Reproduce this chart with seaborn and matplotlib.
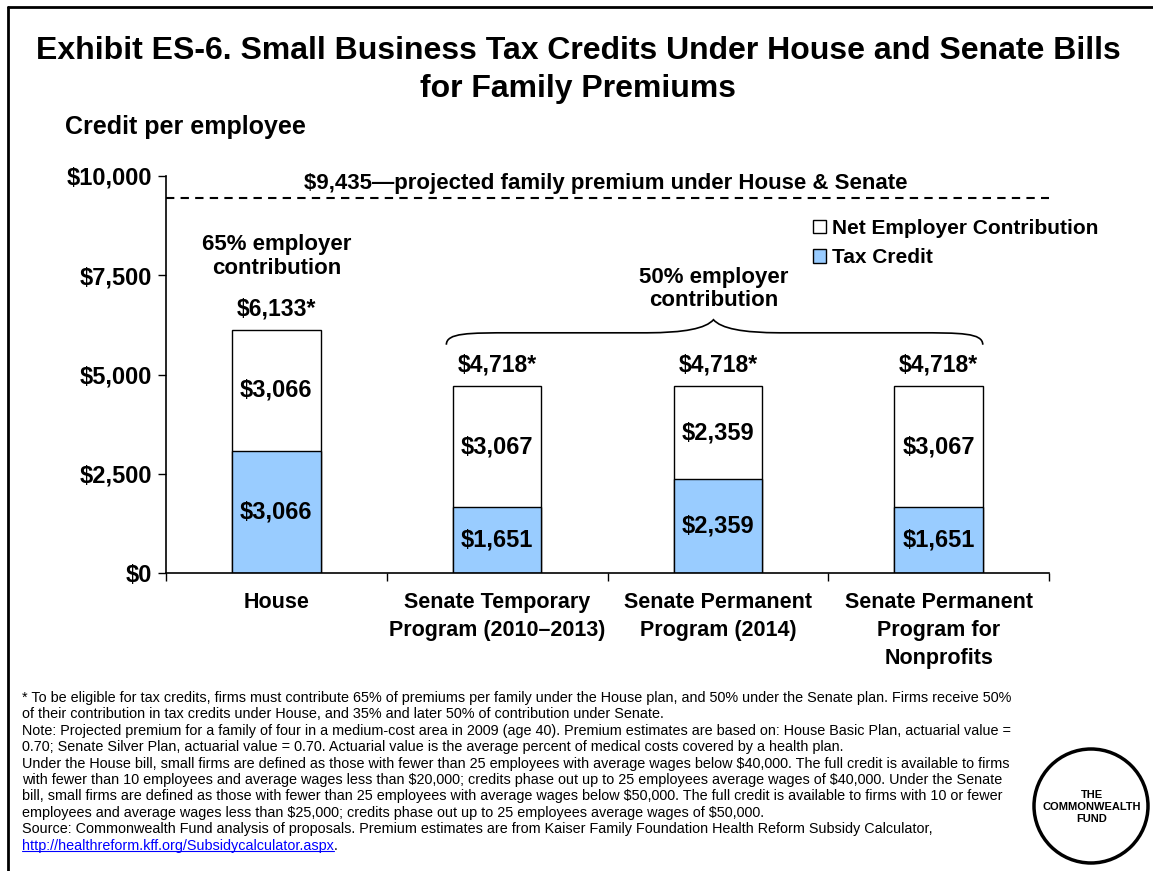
import matplotlib
matplotlib.use('Agg')
import matplotlib.pyplot as plt
import seaborn as sns
from matplotlib.path import Path
from matplotlib.patches import PathPatch, Circle
from matplotlib.lines import Line2D

# Chart data
categories = ['House', 'Senate Temporary\nProgram (2010–2013)', 'Senate Permanent\nProgram (2014)',
              'Senate Permanent\nProgram for\nNonprofits']
tax_credit = [3066, 1651, 2359, 1651]
net_employer = [3066, 3067, 2359, 3067]
totals = [6133, 4718, 4718, 4718]
premium = 9435
y_ticks = [0, 2500, 5000, 7500, 10000]
y_tick_labels = ['$0', '$2,500', '$5,000', '$7,500', '$10,000']

footnotes = [
    "* To be eligible for tax credits, firms must contribute 65% of premiums per family under the House plan, and 50% under the Senate plan. Firms receive 50%",
    "of their contribution in tax credits under House, and 35% and later 50% of contribution under Senate.",
    "Note: Projected premium for a family of four in a medium-cost area in 2009 (age 40). Premium estimates are based on: House Basic Plan, actuarial value =",
    "0.70; Senate Silver Plan, actuarial value = 0.70. Actuarial value is the average percent of medical costs covered by a health plan.",
    "Under the House bill, small firms are defined as those with fewer than 25 employees with average wages below $40,000. The full credit is available to firms",
    "with fewer than 10 employees and average wages less than $20,000; credits phase out up to 25 employees average wages of $40,000. Under the Senate",
    "bill, small firms are defined as those with fewer than 25 employees with average wages below $50,000. The full credit is available to firms with 10 or fewer",
    "employees and average wages less than $25,000; credits phase out up to 25 employees average wages of $50,000.",
    "Source: Commonwealth Fund analysis of proposals. Premium estimates are from Kaiser Family Foundation Health Reform Subsidy Calculator,",
]
link = "http://healthreform.kff.org/Subsidycalculator.aspx"

sns.set_style('ticks')
plt.rcParams['font.family'] = ['Liberation Sans', 'DejaVu Sans']
plt.rcParams['text.parse_math'] = False
plt.rcParams['text.color'] = 'black'
plt.rcParams['xtick.color'] = 'black'
plt.rcParams['ytick.color'] = 'black'
plt.rcParams['axes.edgecolor'] = 'black'

W, H = 1153, 871
fig = plt.figure(figsize=(W / 100, H / 100), dpi=100)


def fx(px):
    return px / W


def fy(py):
    return 1 - py / H


ax = fig.add_axes([fx(166), fy(573), fx(1049) - fx(166), fy(176) - fy(573)])

blue = '#99CCFF'
sns.barplot(x=categories, y=totals, color='white', edgecolor='black', linewidth=1,
            width=0.4, saturation=1, ax=ax)
sns.barplot(x=categories, y=tax_credit, color=blue, edgecolor='black', linewidth=1,
            width=0.4, saturation=1, ax=ax)

ax.set_xlim(-0.5, 3.5)
ax.set_ylim(0, 10000)
ax.set_yticks(y_ticks)
ax.set_yticklabels(y_tick_labels, fontsize=17, fontweight='bold')
ax.tick_params(axis='y', length=6, width=1, pad=4, colors='black')
ax.set_xticks(range(len(categories)))
ax.set_xticklabels(categories, fontsize=15.5, fontweight='bold', linespacing=1.42)
ax.tick_params(axis='x', which='major', length=0, pad=14, colors='black')
ax.set_xticks([-0.5, 0.5, 1.5, 2.5, 3.5], minor=True)
ax.tick_params(axis='x', which='minor', length=6, width=1, color='black')
ax.set_xlabel('')
ax.set_ylabel('')
for side in ['top', 'right']:
    ax.spines[side].set_visible(False)
for side in ['left', 'bottom']:
    ax.spines[side].set_color('black')
    ax.spines[side].set_linewidth(1.2)

# Premium line
ax.axhline(premium, color='black', linestyle=(0, (4, 3)), linewidth=1.5)
ax.text(1.49, 9800, f'${premium:,}—projected family premium under House & Senate',
        ha='center', va='center', fontsize=16, fontweight='bold')

# Segment labels
for i in range(len(categories)):
    ax.text(i, tax_credit[i] / 2, f'${tax_credit[i]:,}', ha='center', va='center',
            fontsize=17, fontweight='bold')
    ax.text(i, tax_credit[i] + (totals[i] - tax_credit[i]) / 2, f'${net_employer[i]:,}',
            ha='center', va='center', fontsize=17, fontweight='bold')
    ax.text(i, totals[i] + 520, f'${totals[i]:,}*', ha='center', va='center',
            fontsize=16.5, fontweight='bold')

ax.text(0, 7970, '65% employer\ncontribution', ha='center', va='center', fontsize=16,
        fontweight='bold', linespacing=1.22)
ax.text(1.98, 7150, '50% employer\ncontribution', ha='center', va='center', fontsize=16,
        fontweight='bold', linespacing=1.1)

# Curly brace over Senate bars
x0, x1, xm = 0.77, 3.2, 1.98
yb, ym, yp = 5750, 6050, 6380
verts = [(x0, yb), (x0, ym), (x0 + 0.1, ym), (x0 + 0.3, ym),
         (xm - 0.3, ym), (xm - 0.05, ym), (xm, yp),
         (xm + 0.05, ym), (xm + 0.3, ym), (x1 - 0.3, ym),
         (x1 - 0.1, ym), (x1, ym), (x1, yb)]
codes = [Path.MOVETO, Path.CURVE4, Path.CURVE4, Path.LINETO,
         Path.LINETO, Path.CURVE3, Path.CURVE3,
         Path.CURVE3, Path.CURVE3, Path.LINETO,
         Path.CURVE4, Path.CURVE4, Path.CURVE4]
ax.add_patch(PathPatch(Path(verts, codes), facecolor='none', edgecolor='black', linewidth=1.2))

# Legend
handles = [ax.containers[0][0], ax.containers[1][0]]
ax.legend(handles, ['Net Employer Contribution', 'Tax Credit'], loc='upper left',
          bbox_to_anchor=(fx(813), fy(219)), bbox_transform=fig.transFigure,
          frameon=False, prop={'weight': 'bold', 'size': 15},
          handlelength=0.6, handleheight=0.6, handletextpad=0.3, labelspacing=0.5,
          borderpad=0, borderaxespad=0)

# Titles
fig.text(fx(578), fy(51), 'Exhibit ES-6. Small Business Tax Credits Under House and Senate Bills',
         ha='center', va='center', fontsize=23, fontweight='bold')
fig.text(fx(578), fy(89), 'for Family Premiums', ha='center', va='center',
         fontsize=23, fontweight='bold')
fig.text(fx(65), fy(127), 'Credit per employee', ha='left', va='center',
         fontsize=18, fontweight='bold')

# Footnotes
for k, line in enumerate(footnotes):
    fig.text(fx(22), fy(698 + 16.4 * k), line, ha='left', va='center', fontsize=10.4)
link_y = fy(698 + 16.4 * len(footnotes))
lt = fig.text(fx(22), link_y, link, ha='left', va='center', fontsize=10.4, color='#0000FF')
fig.canvas.draw()
bb = lt.get_window_extent(fig.canvas.get_renderer()).transformed(fig.transFigure.inverted())
fig.add_artist(Line2D([bb.x0, bb.x1], [bb.y0 + 0.002, bb.y0 + 0.002], color='#0000FF',
                      linewidth=0.8, transform=fig.transFigure))
fig.text(bb.x1, link_y, '.', ha='left', va='center', fontsize=10.4)

# Logo
fig.add_artist(Circle((10.91, (H - 806) / 100), 0.57, transform=fig.dpi_scale_trans,
                      facecolor='white', edgecolor='black', linewidth=2.5))
fig.text(fx(1092), fy(807), 'THE\nCOMMONWEALTH\nFUND', ha='center', va='center',
         fontsize=8, fontweight='bold', linespacing=1.3)

# Frame
fig.add_artist(Line2D([fx(8), 1], [fy(7), fy(7)], color='black', linewidth=2,
                      transform=fig.transFigure))
fig.add_artist(Line2D([fx(8), fx(8)], [0, fy(7)], color='black', linewidth=2,
                      transform=fig.transFigure))

fig.savefig('out.png', dpi=100, facecolor='white')
